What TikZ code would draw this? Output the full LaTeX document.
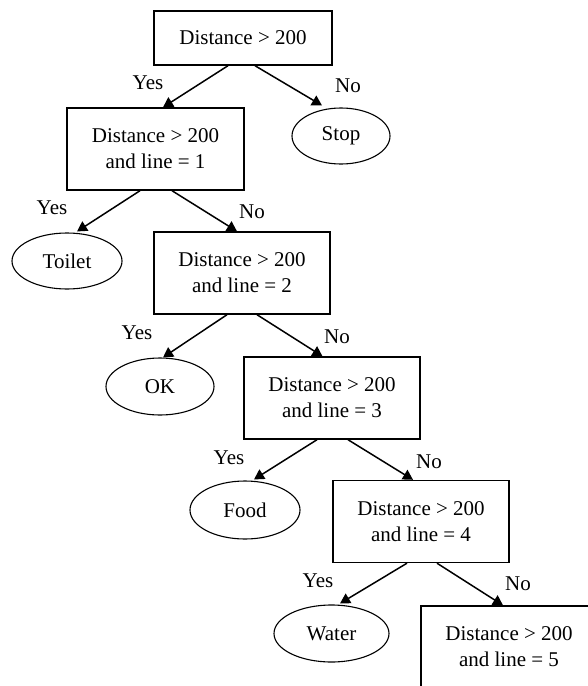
\documentclass[tikz,border=0pt]{standalone}
\usepackage{fontspec}
\setmainfont{Liberation Serif}
\usetikzlibrary{shapes.geometric,arrows.meta}
\begin{document}
\begin{tikzpicture}[x=1pt,y=-1pt,
  every node/.style={font=\fontsize{21}{26}\selectfont},
  decision/.style={draw,line width=1.4pt,rectangle,inner sep=0pt,minimum width=176pt,minimum height=82pt,align=center},
  leaf/.style={draw,line width=1.1pt,ellipse,inner sep=0pt},
  edge/.style={line width=1.5pt,-{Triangle[width=11pt,length=10pt]}},
  lbl/.style={inner sep=0pt}]
\useasboundingbox (0,0) rectangle (588,686);
\clip (0,0) rectangle (588,686);
\node[decision,minimum width=178pt,minimum height=54pt] (b1) at (243,38) {Distance > 200};
\node[leaf,minimum width=98pt,minimum height=56pt] (stop) at (341,136) {Stop};
\node[decision,minimum width=177pt] (b2) at (155.5,149) {Distance > 200\\and line = 1};
\node[leaf,minimum width=110pt,minimum height=56pt] (toilet) at (67,261) {Toilet};
\node[decision] (b3) at (242,273) {Distance > 200\\and line = 2};
\node[leaf,minimum width=108pt,minimum height=57pt] (ok) at (160,386.5) {OK};
\node[decision] (b4) at (332,398) {Distance > 200\\and line = 3};
\node[leaf,minimum width=110pt,minimum height=58pt] (food) at (245,510) {Food};
\node[decision] (b5) at (421,521.5) {Distance > 200\\and line = 4};
\node[leaf,minimum width=115pt,minimum height=57pt] (water) at (331.5,633.5) {Water};
\node[decision] (b6) at (509,647) {Distance > 200\\and line = 5};
% edges
\draw[edge] ([xshift=-15pt]b1.south) -- ([xshift=7.5pt]b2.north);
\draw[edge] ([xshift=12pt]b1.south) -- ([xshift=-19pt,yshift=2pt]stop.north);
\draw[edge] ([xshift=-15.5pt]b2.south) -- ([xshift=10pt,yshift=1pt]toilet.north);
\draw[edge] ([xshift=16.5pt]b2.south) -- ([xshift=-5pt]b3.north);
\draw[edge] ([xshift=-15pt]b3.south) -- ([xshift=3pt]ok.north);
\draw[edge] ([xshift=15pt]b3.south) -- ([xshift=-9.5pt]b4.north);
\draw[edge] ([xshift=-15pt]b4.south) -- ([xshift=9pt,yshift=1pt]food.north);
\draw[edge] ([xshift=16pt]b4.south) -- ([xshift=-8pt]b5.north);
\draw[edge] ([xshift=-14pt]b5.south) -- ([xshift=8.5pt,yshift=1pt]water.north);
\draw[edge] ([xshift=16pt]b5.south) -- ([xshift=-6pt]b6.north);
% labels
\node[lbl] (y1) at (148,83) {Yes};
\node[lbl] (n1) at (348,86) {No};
\node[lbl] (y2) at (52,208) {Yes};
\node[lbl] (n2) at (252,212) {No};
\node[lbl] (y3) at (137,333) {Yes};
\node[lbl] (n3) at (337,337) {No};
\node[lbl] (y4) at (229,458) {Yes};
\node[lbl] (n4) at (429,462) {No};
\node[lbl] (y5) at (318,581) {Yes};
\node[lbl] (n5) at (518,584) {No};
\end{tikzpicture}
\end{document}
